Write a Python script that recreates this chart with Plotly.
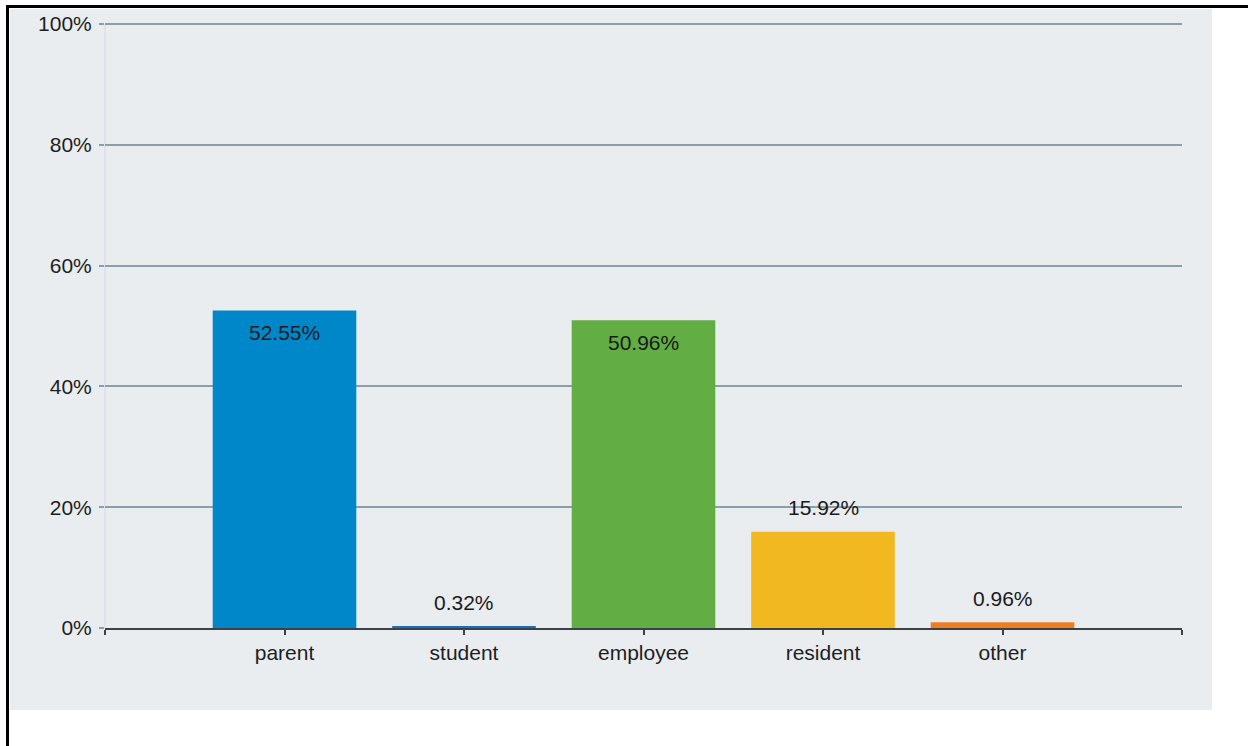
import plotly.graph_objects as go

# Respondent roles and their shares (percent)
categories = ["parent", "student", "employee", "resident", "other"]
shares = [52.55, 0.32, 50.96, 15.92, 0.96]
bar_colors = ["#0087c9", "#1c6fbc", "#62ad44", "#f2b81f", "#ef7d22"]
y_ticks = [0, 20, 40, 60, 80, 100]
y_tick_labels = ["0%", "20%", "40%", "60%", "80%", "100%"]

W, H = 1248, 746
ML, MR, MT, MB = 105, 66, 21, 118
PW, PH = W - ML - MR, H - MT - MB
# a little headroom above 100% so the top gridline is drawn in full
Y_TOP = 100.5


def px_x(p):
    return (p - ML) / PW


def px_y(p):
    return (H - MB - p) / PH


FONT = "Liberation Sans, Arial, sans-serif"
FS = 21
positions = list(range(1, len(categories) + 1))

fig = go.Figure()
fig.add_trace(go.Bar(
    x=positions,
    y=shares,
    width=0.8,
    marker=dict(color=bar_colors, line=dict(width=0)),
    hoverinfo="skip",
))

# value labels: tall bars carry the label inside near the top, short bars above
for xpos, val in zip(positions, shares):
    inside = val > 40
    fig.add_annotation(
        x=xpos, y=val, xref="x", yref="y",
        text=f"{val:.2f}%",
        showarrow=False,
        yshift=-22 if inside else 24,
        font=dict(family=FONT, size=FS, color="#1a1a1a"),
    )

shapes = [
    # grey panel behind the chart
    dict(type="rect", xref="paper", yref="paper",
         x0=px_x(10), x1=px_x(1212), y0=px_y(710), y1=px_y(9),
         fillcolor="#e9edf0", line=dict(width=0), layer="below"),
    # frame: top and left edges
    dict(type="line", xref="paper", yref="paper",
         x0=px_x(6), x1=px_x(1248), y0=px_y(6.5), y1=px_y(6.5),
         line=dict(color="#000000", width=3)),
    dict(type="line", xref="paper", yref="paper",
         x0=px_x(7.5), x1=px_x(7.5), y0=px_y(5), y1=px_y(746),
         line=dict(color="#000000", width=3)),
]

fig.update_layout(
    width=W, height=H,
    margin=dict(l=ML, r=MR, t=MT, b=MB, pad=0),
    paper_bgcolor="#ffffff",
    plot_bgcolor="rgba(0,0,0,0)",
    showlegend=False,
    shapes=shapes,
    font=dict(family=FONT, size=FS, color="#1e1e1e"),
    xaxis=dict(
        range=[0, len(categories) + 1],
        tickmode="array",
        tickvals=[0] + positions + [len(categories) + 1],
        ticktext=[""] + categories + [""],
        showgrid=False,
        zeroline=False,
        showline=True, linecolor="#3c4146", linewidth=2,
        ticks="outside", ticklen=5, tickwidth=2, tickcolor="#3c4146",
        tickfont=dict(family=FONT, size=FS, color="#1e1e1e"),
        fixedrange=True,
    ),
    yaxis=dict(
        range=[0, Y_TOP],
        tickmode="array",
        tickvals=y_ticks,
        ticktext=y_tick_labels,
        showgrid=True, gridcolor="#8e9ea8", gridwidth=2,
        zeroline=False,
        showline=False,
        ticks="outside", ticklen=5, tickwidth=2, tickcolor="#8e9ea8",
        ticklabelstandoff=3,
        tickfont=dict(family=FONT, size=FS, color="#1e1e1e"),
        fixedrange=True,
    ),
)

# light vertical axis line running from 0% up to 100%
fig.add_shape(type="line", xref="paper", yref="y",
              x0=0, x1=0, y0=0, y1=y_ticks[-1],
              line=dict(color="#d3dbe6", width=1), layer="below")

fig.write_html("out.html")
